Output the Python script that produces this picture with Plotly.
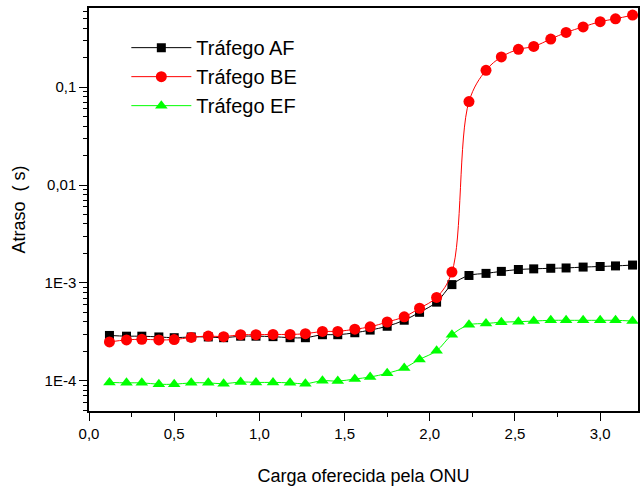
import plotly.graph_objects as go

carga = [0.12, 0.22, 0.31, 0.41, 0.50, 0.60, 0.70, 0.79, 0.89, 0.98,
         1.08, 1.18, 1.27, 1.37, 1.46, 1.56, 1.65, 1.75, 1.85, 1.94,
         2.04, 2.13, 2.23, 2.33, 2.42, 2.52, 2.61, 2.71, 2.80, 2.90,
         3.00, 3.09, 3.19]

trafego_af = [2.9e-4, 2.85e-4, 2.85e-4, 2.8e-4, 2.75e-4, 2.8e-4, 2.8e-4, 2.75e-4, 2.85e-4, 2.85e-4,
              2.82e-4, 2.75e-4, 2.75e-4, 2.95e-4, 2.95e-4, 3.09e-4, 3.29e-4, 3.6e-4, 4.15e-4, 5.0e-4,
              6.35e-4, 9.6e-4, 1.19e-3, 1.25e-3, 1.31e-3, 1.37e-3, 1.39e-3, 1.41e-3, 1.42e-3, 1.45e-3,
              1.47e-3, 1.49e-3, 1.52e-3]

trafego_be = [2.49e-4, 2.61e-4, 2.65e-4, 2.61e-4, 2.63e-4, 2.77e-4, 2.86e-4, 2.82e-4, 2.95e-4, 2.95e-4,
              2.97e-4, 2.97e-4, 3.02e-4, 3.19e-4, 3.19e-4, 3.36e-4, 3.55e-4, 3.98e-4, 4.5e-4, 5.5e-4,
              7.1e-4, 1.29e-3, 0.0713, 0.149, 0.204, 0.244, 0.261, 0.311, 0.363, 0.414,
              0.468, 0.501, 0.546]

trafego_ef = [9.6e-5, 9.5e-5, 9.5e-5, 9.2e-5, 9.2e-5, 9.5e-5, 9.5e-5, 9.3e-5, 9.7e-5, 9.6e-5,
              9.6e-5, 9.5e-5, 9.3e-5, 1.0e-4, 9.9e-5, 1.04e-4, 1.09e-4, 1.19e-4, 1.35e-4, 1.65e-4,
              2.02e-4, 2.95e-4, 3.72e-4, 3.84e-4, 3.96e-4, 4.01e-4, 4.07e-4, 4.14e-4, 4.14e-4, 4.14e-4,
              4.14e-4, 4.14e-4, 4.07e-4]

y_tickvals = [1e-4, 1e-3, 1e-2, 1e-1]
y_ticktext = ["1E-4", "1E-3", "0,01", "0,1"]
y_minorvals = [m * 10.0 ** e for e in range(-5, 0) for m in range(2, 10)]

FONT = "Liberation Sans, Arial, sans-serif"

fig = go.Figure()
fig.add_trace(go.Scatter(
    x=carga, y=trafego_af, name="Tráfego AF", mode="lines+markers",
    line=dict(color="black", width=1, shape="spline"),
    marker=dict(symbol="square", size=9, color="black")))
fig.add_trace(go.Scatter(
    x=carga, y=trafego_be, name="Tráfego BE", mode="lines+markers",
    line=dict(color="#ff0000", width=1, shape="spline"),
    marker=dict(symbol="circle", size=11, color="#ff0000")))
fig.add_trace(go.Scatter(
    x=carga, y=trafego_ef, name="Tráfego EF", mode="lines+markers",
    line=dict(color="#00ff00", width=1, shape="spline"),
    marker=dict(symbol="triangle-up", size=11, color="#00ff00")))

fig.update_layout(
    width=640, height=486,
    margin=dict(l=89, r=0, t=8, b=66),
    paper_bgcolor="white", plot_bgcolor="white",
    separators=",.",
    font=dict(family=FONT, color="black", size=15),
    showlegend=True,
    legend=dict(x=0.068, y=0.95, xanchor="left", yanchor="top",
                bgcolor="rgba(0,0,0,0)", font=dict(size=20, family=FONT),
                itemwidth=60, tracegroupgap=0),
    xaxis=dict(
        range=[0, 3.222], dtick=0.5, tick0=0, tickformat=".1f",
        showgrid=False, zeroline=False,
        showline=True, linecolor="black", linewidth=1.5, mirror=True,
        ticks="outside", ticklen=8, tickwidth=1, tickcolor="black",
        tickfont=dict(size=15),
        minor=dict(dtick=0.25, tick0=0, ticks="outside", ticklen=4, tickcolor="black", showgrid=False),
        title=dict(text="Carga oferecida pela ONU", font=dict(size=18), standoff=32),
    ),
    yaxis=dict(
        type="log", range=[-4.31, -0.19],
        tickmode="array", tickvals=y_tickvals, ticktext=y_ticktext,
        showgrid=False, zeroline=False,
        showline=True, linecolor="black", linewidth=1.5, mirror=True,
        ticks="outside", ticklen=8, tickwidth=1, tickcolor="black",
        tickfont=dict(size=15),
        minor=dict(tickmode="array", tickvals=y_minorvals, ticks="outside", ticklen=4,
                   tickcolor="black", showgrid=False),
        title=dict(text="Atraso \u00a0( s)", font=dict(size=18), standoff=14),
    ),
)

fig.write_html("out.html")
